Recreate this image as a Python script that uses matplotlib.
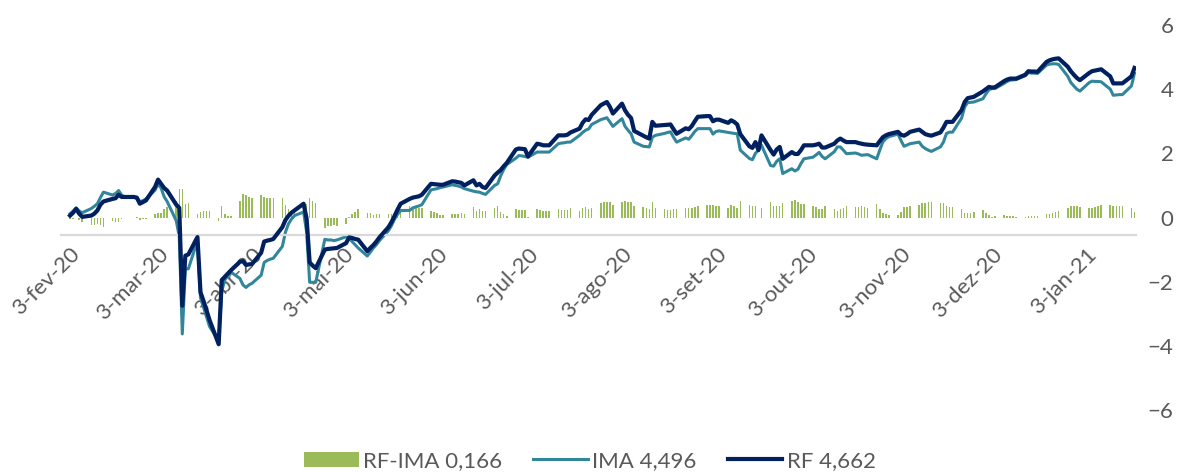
import matplotlib as mpl
mpl.use('Agg')
import matplotlib.pyplot as plt
import pandas as pd

plt.rcParams['font.family'] = ['Lato', 'DejaVu Sans']

# trading days (weekdays) 3-fev-2020 .. 19-jan-2021
dates = pd.bdate_range('2020-02-03', '2021-01-19')

rf = [
    0.06, 0.15, 0.27, 0.12, 0.02,
    0.06, 0.12, 0.22, 0.40, 0.50,
    0.58, 0.60, 0.71, 0.64, 0.64,
    0.64, 0.62, 0.43, 0.48, 0.53,
    0.95, 1.18, 1.05, 0.92, 0.84,
    0.40, 0.30, -2.75, -1.19, -1.15,
    -0.61, -2.33, -2.60, -2.90, -3.20,
    -3.95, -1.95, -1.85, -1.75, -1.65,
    -1.38, -1.36, -1.48, -1.46, -1.45,
    -1.10, -0.75, -0.72, -0.70, -0.67,
    -0.30, -0.08, 0.05, 0.15, 0.22,
    0.43, -0.04, -1.40, -1.50, -1.58,
    -1.00, -0.98, -0.97, -0.96, -0.95,
    -0.80, -0.62, -0.64, -0.67, -0.69,
    -1.05, -0.95, -0.86, -0.75, -0.62,
    -0.30, -0.14, 0.05, 0.25, 0.43,
    0.58, 0.62, 0.64, 0.66, 0.71,
    1.05, 1.04, 1.03, 1.02, 1.02,
    1.13, 1.12, 1.10, 1.08, 1.00,
    1.16, 1.00, 1.05, 0.95, 0.92,
    1.31, 1.40, 1.48, 1.60, 1.70,
    2.12, 2.15, 2.14, 2.13, 1.90,
    2.30, 2.28, 2.25, 2.25, 2.25,
    2.56, 2.56, 2.56, 2.58, 2.65,
    2.77, 2.95, 3.06, 3.04, 3.20,
    3.50, 3.55, 3.60, 3.45, 3.24,
    3.55, 3.34, 3.20, 3.10, 2.70,
    2.55, 2.50, 2.46, 2.98, 2.86,
    2.88, 2.89, 2.90, 2.75, 2.61,
    2.78, 2.75, 2.85, 3.00, 3.14,
    3.16, 3.16, 3.00, 3.05, 3.05,
    2.95, 3.03, 2.98, 2.90, 2.60,
    2.22, 2.17, 2.35, 2.10, 2.56,
    2.10, 1.96, 2.12, 2.20, 1.83,
    2.04, 1.98, 1.98, 2.10, 2.25,
    2.25, 2.27, 2.30, 2.18, 2.18,
    2.30, 2.40, 2.46, 2.40, 2.35,
    2.35, 2.32, 2.30, 2.28, 2.27,
    2.25, 2.38, 2.50, 2.56, 2.60,
    2.67, 2.58, 2.55, 2.60, 2.67,
    2.74, 2.67, 2.60, 2.57, 2.55,
    2.65, 2.80, 2.98, 2.98, 2.98,
    3.35, 3.60, 3.72, 3.74, 3.76,
    3.93, 4.00, 4.07, 4.05, 4.06,
    4.25, 4.30, 4.33, 4.33, 4.33,
    4.45, 4.56, 4.55, 4.55, 4.54,
    4.85, 4.90, 4.93, 4.95, 4.96,
    4.70, 4.56, 4.45, 4.35, 4.28,
    4.50, 4.56, 4.58, 4.60, 4.62,
    4.40, 4.18, 4.18, 4.18, 4.18,
    4.40, 4.662,
]

ima = [
    0.12, 0.20, 0.30, 0.20, 0.15,
    0.28, 0.35, 0.43, 0.62, 0.79,
    0.70, 0.75, 0.84, 0.70, 0.64,
    0.64, 0.60, 0.50, 0.52, 0.58,
    0.85, 1.05, 0.92, 0.65, 0.50,
    -0.10, -0.60, -3.63, -1.60, -1.60,
    -0.72, -2.50, -2.80, -3.10, -3.40,
    -3.84, -2.30, -1.95, -1.80, -1.70,
    -1.90, -2.10, -2.18, -2.10, -2.05,
    -1.80, -1.40, -1.34, -1.30, -1.27,
    -0.90, -0.46, -0.20, -0.05, 0.06,
    0.17, -0.46, -2.02, -2.02, -2.02,
    -0.68, -0.70, -0.70, -0.72, -0.70,
    -0.60, -0.64, -0.75, -0.85, -0.95,
    -1.20, -1.08, -0.95, -0.85, -0.72,
    -0.41, -0.25, -0.05, 0.10, 0.22,
    0.22, 0.30, 0.33, 0.36, 0.40,
    0.86, 0.88, 0.90, 0.93, 0.95,
    1.02, 1.00, 0.98, 0.95, 0.90,
    0.82, 0.80, 0.79, 0.75, 0.72,
    1.00, 1.05, 1.30, 1.50, 1.65,
    1.85, 1.93, 1.92, 1.90, 1.88,
    2.04, 2.04, 2.04, 2.04, 2.04,
    2.30, 2.32, 2.33, 2.35, 2.35,
    2.56, 2.65, 2.72, 2.76, 2.90,
    3.05, 3.08, 3.11, 2.98, 2.84,
    3.08, 2.84, 2.72, 2.61, 2.35,
    2.22, 2.21, 2.20, 2.50, 2.56,
    2.62, 2.65, 2.67, 2.50, 2.35,
    2.48, 2.44, 2.55, 2.68, 2.77,
    2.77, 2.77, 2.60, 2.68, 2.70,
    2.65, 2.63, 2.62, 2.61, 2.10,
    1.84, 1.80, 2.00, 2.10, 2.25,
    1.62, 1.60, 1.75, 1.83, 1.37,
    1.52, 1.45, 1.50, 1.68, 1.83,
    1.88, 1.95, 2.03, 1.90, 1.83,
    2.05, 2.20, 2.20, 2.10, 1.99,
    2.01, 1.98, 1.94, 1.95, 1.96,
    1.83, 2.10, 2.35, 2.46, 2.52,
    2.60, 2.40, 2.22, 2.26, 2.30,
    2.35, 2.22, 2.15, 2.10, 2.06,
    2.20, 2.35, 2.62, 2.66, 2.66,
    3.10, 3.45, 3.58, 3.59, 3.60,
    3.70, 3.85, 3.98, 4.02, 4.02,
    4.18, 4.24, 4.28, 4.29, 4.30,
    4.42, 4.52, 4.50, 4.50, 4.49,
    4.75, 4.78, 4.79, 4.79, 4.77,
    4.40, 4.21, 4.10, 4.00, 3.94,
    4.20, 4.25, 4.24, 4.24, 4.23,
    4.00, 3.81, 3.82, 3.83, 3.83,
    4.10, 4.496,
]

month_pt = ['jan', 'fev', 'mar', 'abr', 'mai', 'jun', 'jul', 'ago', 'set', 'out', 'nov', 'dez']
tick_dates = pd.date_range('2020-02-01', '2021-01-01', freq='MS') + pd.Timedelta(days=2)
tick_labels = ['3-%s-%s' % (month_pt[d.month - 1], str(d.year)[2:]) for d in tick_dates]

df = pd.DataFrame({'RF': rf, 'IMA': ima}, index=dates)
df['RF-IMA'] = df['RF'] - df['IMA']

fig = plt.figure(figsize=(11.79, 4.73), dpi=100)
ax = fig.add_axes([61 / 1179, 1 - 410 / 473, (1136 - 61) / 1179, (410 - 25) / 473])

b = ax.bar(df.index, df['RF-IMA'], width=0.5, color='#9BBB59', label='RF-IMA 0,166', zorder=1)
l1, = ax.plot(df.index, df['IMA'], color='#31869B', lw=2.2, label='IMA 4,496', zorder=2)
l2, = ax.plot(df.index, df['RF'], color='#002060', lw=3.0, label='RF 4,662', zorder=3)

ax.set_ylim(-6, 6)
ax.set_yticks([-6, -4, -2, 0, 2, 4, 6])
ax.set_xlim(pd.Timestamp('2020-01-31'), pd.Timestamp('2021-01-19 12:00'))

for s in ['top', 'left', 'right']:
    ax.spines[s].set_visible(False)
ax.spines['bottom'].set_position(('data', -0.53))
ax.spines['bottom'].set_color('#d9d9d9')
ax.spines['bottom'].set_linewidth(1.6)

ax.yaxis.tick_right()
ax.tick_params(axis='y', length=0, pad=27, labelsize=16, labelcolor='#595959')
for t in ax.get_yticklabels():
    t.set_horizontalalignment('right')

ax.set_xticks(tick_dates)
ax.set_xticklabels(tick_labels, rotation=45, ha='right', rotation_mode='anchor')
ax.tick_params(axis='x', length=0, pad=7, labelsize=16, labelcolor='#595959')

ax.legend([b, l1, l2], ['RF-IMA 0,166', 'IMA 4,496', 'RF 4,662'],
          loc='center', bbox_to_anchor=(0.492, -0.1325), ncol=3, frameon=False,
          fontsize=16, labelcolor='#595959', handlelength=2.45, handleheight=0.68,
          handletextpad=0.2, columnspacing=1.4)

fig.savefig('out.png', dpi=100)
